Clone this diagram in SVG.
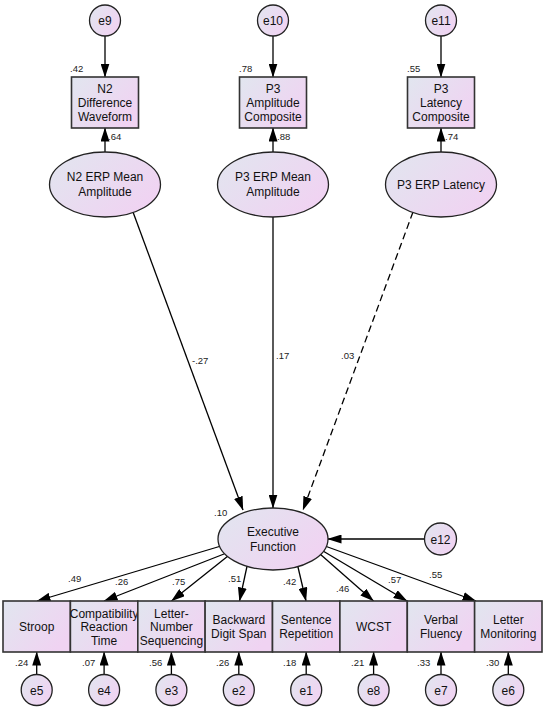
<svg xmlns="http://www.w3.org/2000/svg" width="546" height="712" viewBox="0 0 546 712">
<defs>
<linearGradient id="g" x1="0" y1="0" x2="1" y2="0.6">
<stop offset="0" stop-color="#e1e6ef"/>
<stop offset="1" stop-color="#f0d3f2"/>
</linearGradient>
<marker id="ah" viewBox="0 0 14 9" refX="13.5" refY="4.5" markerWidth="14" markerHeight="9" markerUnits="userSpaceOnUse" orient="auto">
<path d="M0,0 L14,4.5 L0,9 z" fill="#000"/>
</marker>
<style>
.bx{fill:url(#g);stroke:#333;stroke-width:1.6}
.el{fill:url(#g);stroke:#222;stroke-width:1.3}
.t{font-family:"Liberation Sans",Arial,sans-serif;font-size:12px;fill:#111;text-anchor:middle}
.l{font-family:"Liberation Sans",Arial,sans-serif;font-size:9.5px;fill:#222}
.c{stroke:#000;stroke-width:1.3;fill:none;marker-end:url(#ah)}
.d{stroke-dasharray:7,4}
</style>
</defs>
<rect width="546" height="712" fill="#fff"/>

<g id="connectors">
<line class="c" x1="105" y1="36" x2="105" y2="77"/>
<line class="c" x1="273" y1="36" x2="273" y2="77"/>
<line class="c" x1="441" y1="36" x2="441" y2="77"/>
<line class="c" x1="105" y1="152" x2="105" y2="128"/>
<line class="c" x1="273" y1="152" x2="273" y2="128"/>
<line class="c" x1="441" y1="152" x2="441" y2="128"/>
<line class="c" x1="133" y1="212" x2="243" y2="510"/>
<line class="c" x1="273" y1="216" x2="273" y2="508"/>
<line class="c d" x1="413" y1="212" x2="303" y2="510"/>
<line class="c" x1="424" y1="539" x2="328" y2="539"/>
<line class="c" x1="221" y1="546" x2="37" y2="601"/>
<line class="c" x1="224" y1="554" x2="104" y2="601"/>
<line class="c" x1="228" y1="556" x2="171.5" y2="601"/>
<line class="c" x1="247.5" y1="564" x2="239.5" y2="601"/>
<line class="c" x1="297.5" y1="565" x2="306" y2="601"/>
<line class="c" x1="320" y1="554" x2="373.5" y2="601"/>
<line class="c" x1="323" y1="551" x2="407" y2="601"/>
<line class="c" x1="325" y1="546" x2="476" y2="601"/>
<line class="c" x1="36.7" y1="674.5" x2="36.7" y2="652"/>
<line class="c" x1="104.1" y1="674.5" x2="104.1" y2="652"/>
<line class="c" x1="171.4" y1="674.5" x2="171.4" y2="652"/>
<line class="c" x1="238.8" y1="674.5" x2="238.8" y2="652"/>
<line class="c" x1="306.2" y1="674.5" x2="306.2" y2="652"/>
<line class="c" x1="373.6" y1="674.5" x2="373.6" y2="652"/>
<line class="c" x1="441" y1="674.5" x2="441" y2="652"/>
<line class="c" x1="508.3" y1="674.5" x2="508.3" y2="652"/>
</g>

<g id="labels">
<text class="l" x="70" y="72">.42</text>
<text class="l" x="239" y="72">.78</text>
<text class="l" x="407" y="72">.55</text>
<text class="l" x="108" y="140">.64</text>
<text class="l" x="277" y="140">.88</text>
<text class="l" x="445" y="140">.74</text>
<text class="l" x="192" y="364">-.27</text>
<text class="l" x="276" y="359">.17</text>
<text class="l" x="341" y="359">.03</text>
<text class="l" x="214" y="516">.10</text>
<text class="l" x="68" y="582">.49</text>
<text class="l" x="115" y="585">.26</text>
<text class="l" x="172" y="585">.75</text>
<text class="l" x="228" y="582">.51</text>
<text class="l" x="283" y="585">.42</text>
<text class="l" x="336" y="592">.46</text>
<text class="l" x="388" y="583">.57</text>
<text class="l" x="429" y="578">.55</text>
<text class="l" x="15" y="666">.24</text>
<text class="l" x="82" y="666">.07</text>
<text class="l" x="149" y="666">.56</text>
<text class="l" x="216" y="666">.26</text>
<text class="l" x="283" y="666">.18</text>
<text class="l" x="351" y="666">.21</text>
<text class="l" x="417" y="666">.33</text>
<text class="l" x="486" y="666">.30</text>
</g>

<g id="e9"><circle class="el" cx="105" cy="20.5" r="15.5"/><text class="t" x="105" y="25">e9</text></g>
<g id="e10"><circle class="el" cx="273" cy="20.5" r="15.5"/><text class="t" x="273" y="25">e10</text></g>
<g id="e11"><circle class="el" cx="441" cy="20.5" r="15.5"/><text class="t" x="441" y="25">e11</text></g>

<g id="n2diff"><rect class="bx" x="71.5" y="77" width="67" height="51"/><text class="t" x="105" y="92.5">N2</text><text class="t" x="105" y="107">Difference</text><text class="t" x="105" y="121">Waveform</text></g>
<g id="p3amp"><rect class="bx" x="239.5" y="77" width="67" height="51"/><text class="t" x="273" y="92.5">P3</text><text class="t" x="273" y="107">Amplitude</text><text class="t" x="273" y="121">Composite</text></g>
<g id="p3lat"><rect class="bx" x="407.5" y="77" width="67" height="51"/><text class="t" x="441" y="92.5">P3</text><text class="t" x="441" y="107">Latency</text><text class="t" x="441" y="121">Composite</text></g>

<g id="n2erp"><ellipse class="el" cx="105" cy="184.5" rx="55.5" ry="32.5"/><text class="t" x="105" y="181">N2 ERP Mean</text><text class="t" x="105" y="196">Amplitude</text></g>
<g id="p3erp"><ellipse class="el" cx="273" cy="184.5" rx="55.5" ry="32.5"/><text class="t" x="273" y="181">P3 ERP Mean</text><text class="t" x="273" y="196">Amplitude</text></g>
<g id="p3erplat"><ellipse class="el" cx="441" cy="184.5" rx="55.5" ry="32.5"/><text class="t" x="441" y="188.5">P3 ERP Latency</text></g>

<g id="ef"><ellipse class="el" cx="273" cy="539" rx="55" ry="31"/><text class="t" x="273" y="536.3">Executive</text><text class="t" x="273" y="551.3">Function</text></g>
<g id="e12"><circle class="el" cx="440.5" cy="539" r="16"/><text class="t" x="440.5" y="543.5">e12</text></g>

<g id="stroop"><rect class="bx" x="3" y="601" width="67.4" height="51"/><text class="t" x="36.7" y="631">Stroop</text></g>
<g id="crt"><rect class="bx" x="70.4" y="601" width="67.4" height="51"/><text class="t" x="104.1" y="617.5">Compatibility</text><text class="t" x="104.1" y="631">Reaction</text><text class="t" x="104.1" y="644.5">Time</text></g>
<g id="lns"><rect class="bx" x="137.8" y="601" width="67.4" height="51"/><text class="t" x="171.4" y="617.5">Letter-</text><text class="t" x="171.4" y="631">Number</text><text class="t" x="171.4" y="644.5">Sequencing</text></g>
<g id="bds"><rect class="bx" x="205.1" y="601" width="67.4" height="51"/><text class="t" x="238.8" y="623.8">Backward</text><text class="t" x="238.8" y="637.8">Digit Span</text></g>
<g id="sr"><rect class="bx" x="272.5" y="601" width="67.4" height="51"/><text class="t" x="306.2" y="623.8">Sentence</text><text class="t" x="306.2" y="637.8">Repetition</text></g>
<g id="wcst"><rect class="bx" x="339.9" y="601" width="67.4" height="51"/><text class="t" x="373.6" y="631">WCST</text></g>
<g id="vf"><rect class="bx" x="407.3" y="601" width="67.4" height="51"/><text class="t" x="441" y="623.8">Verbal</text><text class="t" x="441" y="637.8">Fluency</text></g>
<g id="lm"><rect class="bx" x="474.6" y="601" width="67.4" height="51"/><text class="t" x="508.3" y="623.8">Letter</text><text class="t" x="508.3" y="637.8">Monitoring</text></g>

<g id="e5"><circle class="el" cx="36.7" cy="690" r="15.5"/><text class="t" x="36.7" y="694.5">e5</text></g>
<g id="e4"><circle class="el" cx="104.1" cy="690" r="15.5"/><text class="t" x="104.1" y="694.5">e4</text></g>
<g id="e3"><circle class="el" cx="171.4" cy="690" r="15.5"/><text class="t" x="171.4" y="694.5">e3</text></g>
<g id="e2"><circle class="el" cx="238.8" cy="690" r="15.5"/><text class="t" x="238.8" y="694.5">e2</text></g>
<g id="e1"><circle class="el" cx="306.2" cy="690" r="15.5"/><text class="t" x="306.2" y="694.5">e1</text></g>
<g id="e8"><circle class="el" cx="373.6" cy="690" r="15.5"/><text class="t" x="373.6" y="694.5">e8</text></g>
<g id="e7"><circle class="el" cx="441" cy="690" r="15.5"/><text class="t" x="441" y="694.5">e7</text></g>
<g id="e6"><circle class="el" cx="508.3" cy="690" r="15.5"/><text class="t" x="508.3" y="694.5">e6</text></g>
</svg>
